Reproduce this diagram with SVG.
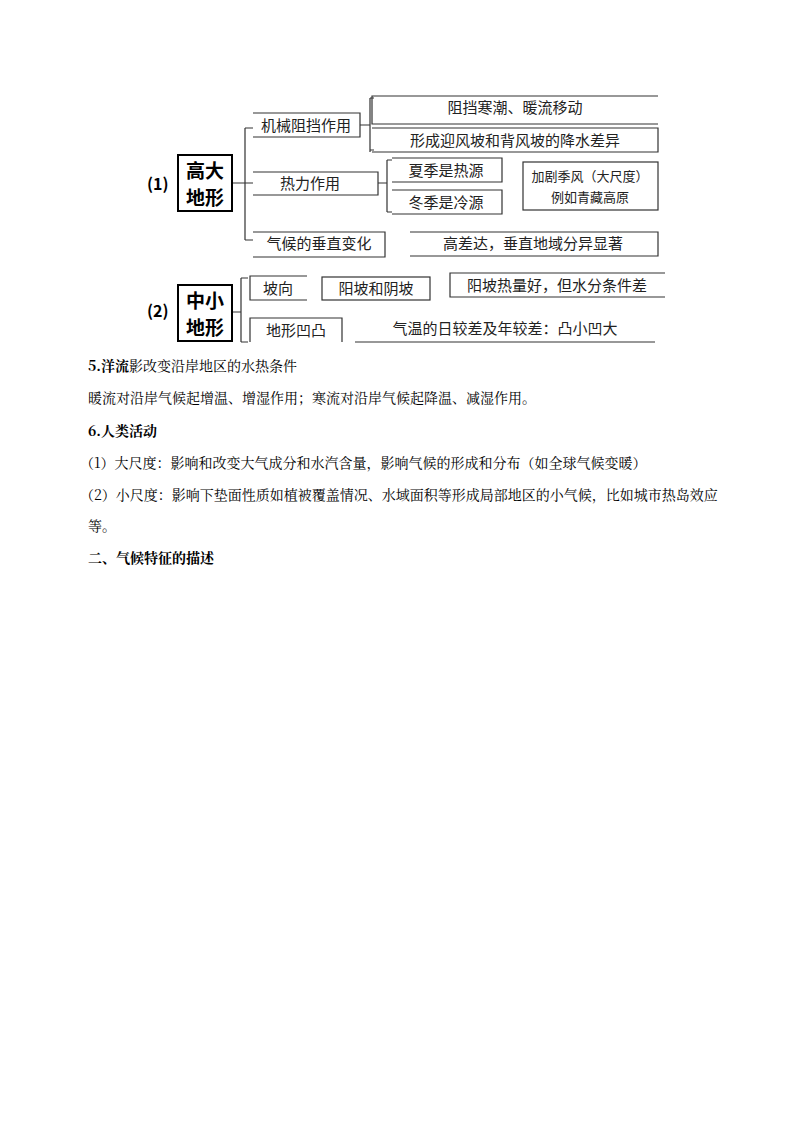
<svg xmlns="http://www.w3.org/2000/svg" width="800" height="1132" viewBox="0 0 800 1132">
<style>
.s{font-family:"Noto Sans CJK SC",sans-serif;fill:#222;text-anchor:middle}
.b{font-family:"Noto Sans CJK SC",sans-serif;font-weight:bold;fill:#000}
.t{font-family:"Noto Serif CJK SC","Liberation Serif","Noto Sans CJK SC",serif;font-size:14px;fill:#000}
.l{fill:none;stroke:#333;stroke-width:1.2}
.k{fill:#fff;stroke:#000;stroke-width:2}
</style>
<rect width="800" height="1132" fill="#fff"/>
<g id="connectors" class="l">
<path d="M232 183H245M245 128V240M245 128H253M245 183H253M245 240H253"/>
<path d="M360 125H370M370 98V152M370 98H374M370 150H374"/>
<path d="M378 183H387M387 160V212M387 160H392M387 212H392"/>
<path d="M232 312H241M241 278V342M241 278H248M241 342H248"/>
</g>
<g id="n1"><text class="b" x="147" y="190" font-size="16">(1)</text></g>
<g id="n2"><rect class="k" x="178" y="155" width="54" height="56"/><text class="b" x="205" y="178" font-size="19" text-anchor="middle">高大</text><text class="b" x="205" y="205" font-size="19" text-anchor="middle">地形</text></g>
<g id="n3"><path class="l" d="M253 113H360V137H253"/><text class="s" x="306" y="131" font-size="15">机械阻挡作用</text></g>
<g id="n4"><path class="l" d="M658 96H372V124H658"/><text class="s" x="515" y="113" font-size="15">阻挡寒潮、暖流移动</text></g>
<g id="n5"><path class="l" d="M372 128H658V152H372"/><text class="s" x="515" y="146" font-size="15">形成迎风坡和背风坡的降水差异</text></g>
<g id="n6"><path class="l" d="M253 172H378V195H253"/><text class="s" x="310" y="189" font-size="15">热力作用</text></g>
<g id="n7"><path class="l" d="M392 158H502V182H392"/><text class="s" x="446" y="176" font-size="15">夏季是热源</text></g>
<g id="n8"><path class="l" d="M392 190H502V214H392"/><text class="s" x="446" y="208" font-size="15">冬季是冷源</text></g>
<g id="n9"><rect class="l" x="523" y="162" width="135" height="48"/><text class="s" x="590" y="181" font-size="13">加剧季风（大尺度）</text><text class="s" x="590" y="202" font-size="13">例如青藏高原</text></g>
<g id="n10"><path class="l" d="M253 232H385V257H253"/><text class="s" x="319" y="249" font-size="15">气候的垂直变化</text></g>
<g id="n11"><path class="l" d="M410 232H658V256H410"/><text class="s" x="533" y="249" font-size="15">高差达，垂直地域分异显著</text></g>
<g id="n12"><text class="b" x="147" y="317" font-size="16">(2)</text></g>
<g id="n13"><rect class="k" x="178" y="285" width="54" height="56"/><text class="b" x="205" y="308" font-size="19" text-anchor="middle">中小</text><text class="b" x="205" y="335" font-size="19" text-anchor="middle">地形</text></g>
<g id="n14"><path class="l" d="M307 276H250V300H307"/><text class="s" x="278" y="294" font-size="15">坡向</text></g>
<g id="n15"><rect class="l" x="322" y="277" width="108" height="23"/><text class="s" x="376" y="294" font-size="15">阳坡和阴坡</text></g>
<g id="n16"><path class="l" d="M665 273H450V297H665"/><text class="s" x="557" y="291" font-size="15">阳坡热量好，但水分条件差</text></g>
<g id="n17"><path class="l" d="M250 342V318H342V342"/><text class="s" x="296" y="336" font-size="15">地形凹凸</text></g>
<g id="n18"><path class="l" d="M355 342H655"/><text class="s" x="505" y="334" font-size="15">气温的日较差及年较差：凸小凹大</text></g>
<g id="text">
<text class="t" x="88" y="371"><tspan font-weight="bold">5.洋流</tspan>影改变沿岸地区的水热条件</text>
<text class="t" x="88" y="403">暖流对沿岸气候起增温、增湿作用；寒流对沿岸气候起降温、减湿作用。</text>
<text class="t" x="88" y="436" font-weight="bold">6.人类活动</text>
<text class="t" x="80" y="468">（1）大尺度：影响和改变大气成分和水汽含量，影响气候的形成和分布（如全球气候变暖）</text>
<text class="t" x="80" y="500">（2）小尺度：影响下垫面性质如植被覆盖情况、水域面积等形成局部地区的小气候，比如城市热岛效应</text>
<text class="t" x="88" y="531">等。</text>
<text class="t" x="88" y="563" font-weight="bold">二、气候特征的描述</text>
</g>
</svg>
